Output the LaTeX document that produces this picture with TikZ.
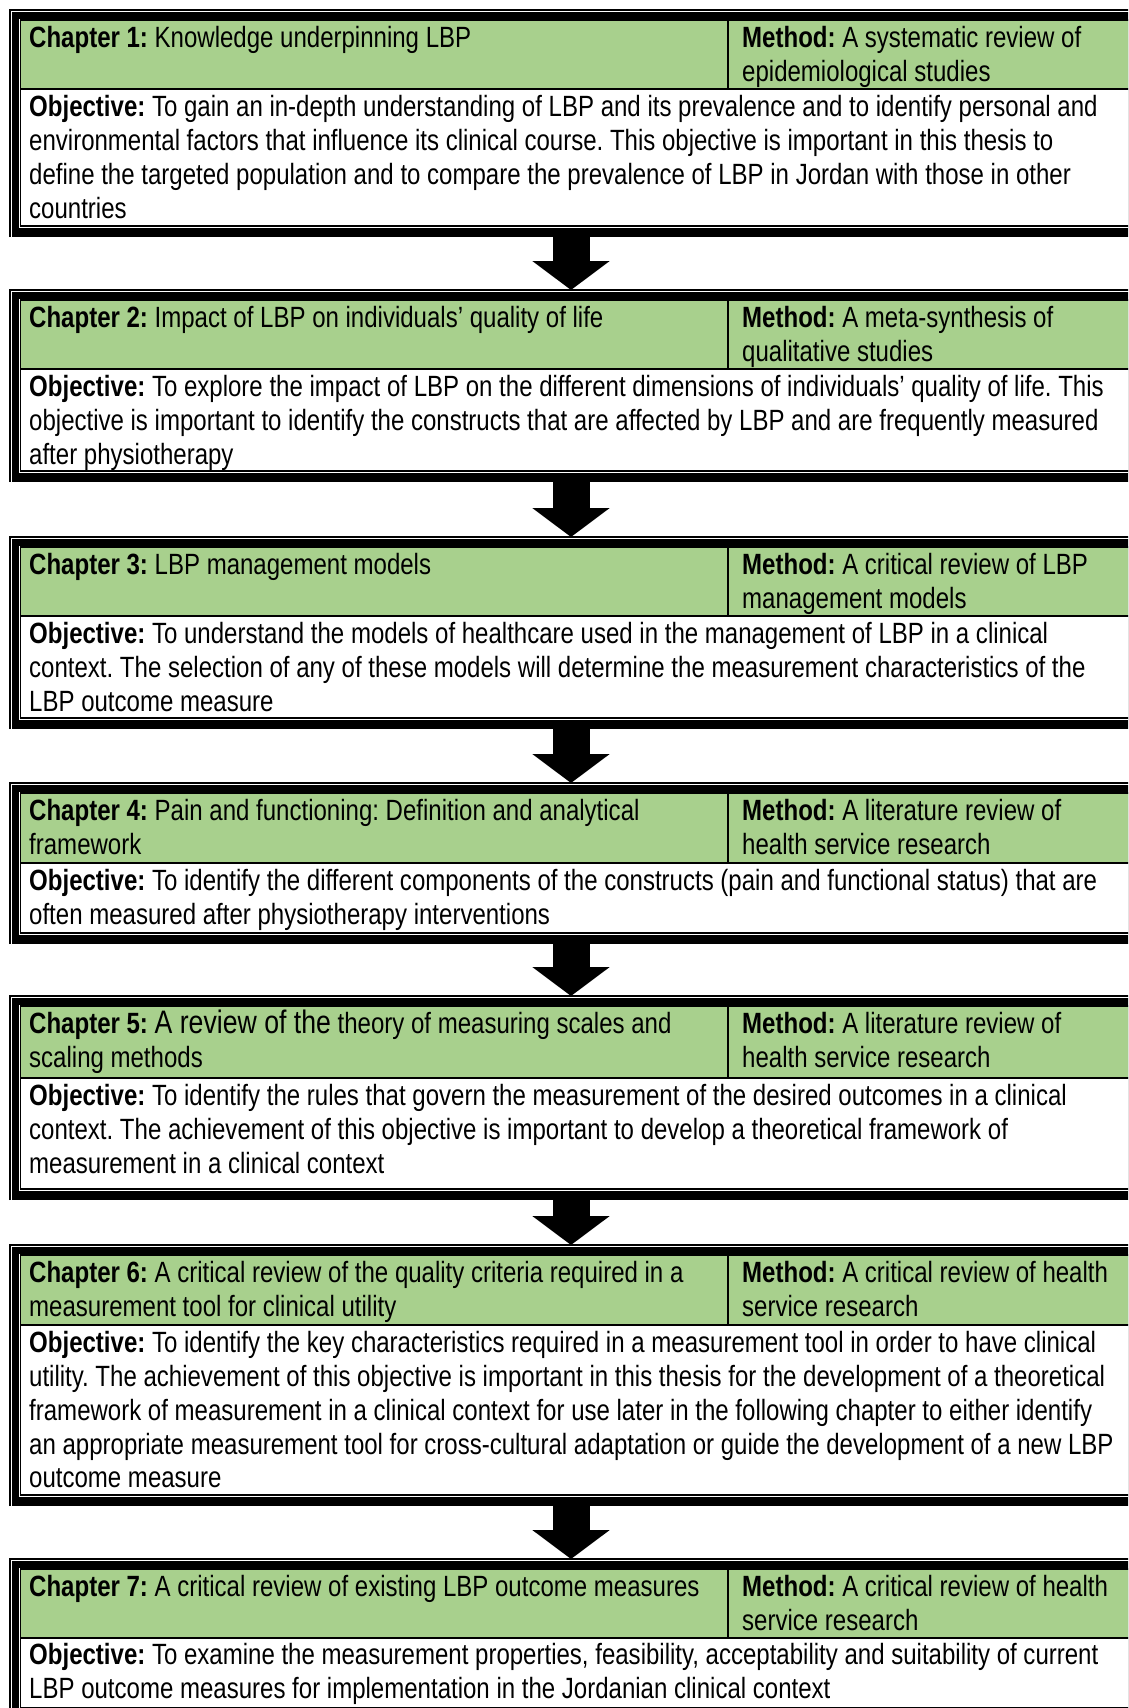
\documentclass[tikz,border=0pt]{standalone}
\usepackage{fontspec}
\setmainfont[FakeStretch=0.82]{Liberation Sans}
\usetikzlibrary{arrows.meta}
\definecolor{hdrgreen}{RGB}{168,208,141}
\newcommand{\blockfont}{\fontsize{29.3pt}{33.75pt}\selectfont\frenchspacing}
\begin{document}
\begin{tikzpicture}[x=1pt, y=-1pt,
		txt/.style = {anchor=north west, inner sep=0pt, align=left, font=\blockfont},
		bigarrow/.style = {line width=37pt, -{Triangle[width=76pt,length=29pt]}}]
			\useasboundingbox (0,0) rectangle (1128,1708);
			\clip (0,0) rectangle (1128,1708);
			% frames: number / cell top / divider / cell bottom
			\foreach \n/\t/\g/\b in {1/20/89/226, 2/300/369/471, 3/547/616/718, 4/793/863/933,
					5/1006/1078/1189, 6/1255/1325/1495, 7/1569/1638/1707.5} {
				\fill[black] (12,\t-8) rectangle (1140,\b+11);
				\fill[white] (19,\t-1) rectangle (1140,\b+2);
				\fill[hdrgreen] (20,\t) rectangle (1140,\g);
				\draw[line width=1.3pt] (1140,\t) -- (20.5,\t) -- (20.5,\b) -- (1140,\b);
				\draw[line width=1.5pt] (20.5,\g) -- (1140,\g);
				\draw[line width=2.5pt] (728,\t) -- (728,\g);
				\draw[line width=1.2pt] (10,\b+11) -- (10,\t-10) -- (1140,\t-10);
				\coordinate (blk\n-top) at (571,\t-10);
				\coordinate (blk\n-bot) at (571,\b+11);
			}
			\node[txt] (chap1) at (29,24) {\strut\textbf{Chapter 1:} Knowledge underpinning LBP};
			\node[txt] (meth1) at (742,24) {\strut\textbf{Method:} A systematic review of\\epidemiological studies};
			\node[txt] (obj1) at (29,93) {\strut\textbf{Objective:} To gain an in-depth understanding of LBP and its prevalence and to identify personal and\\environmental factors that influence its clinical course. This objective is important in this thesis to\\define the targeted population and to compare the prevalence of LBP in Jordan with those in other\\countries};
			\node[txt] (chap2) at (29,304) {\strut\textbf{Chapter 2:} Impact of LBP on individuals’ quality of life};
			\node[txt] (meth2) at (742,304) {\strut\textbf{Method:} A meta-synthesis of\\qualitative studies};
			\node[txt] (obj2) at (29,373) {\strut\textbf{Objective:} To explore the impact of LBP on the different dimensions of individuals’ quality of life. This\\objective is important to identify the constructs that are affected by LBP and are frequently measured\\after physiotherapy};
			\node[txt] (chap3) at (29,551) {\strut\textbf{Chapter 3:} LBP management models};
			\node[txt] (meth3) at (742,551) {\strut\textbf{Method:} A critical review of LBP\\management models};
			\node[txt] (obj3) at (29,620) {\strut\textbf{Objective:} To understand the models of healthcare used in the management of LBP in a clinical\\context. The selection of any of these models will determine the measurement characteristics of the\\LBP outcome measure};
			\node[txt] (chap4) at (29,797) {\strut\textbf{Chapter 4:} Pain and functioning: Definition and analytical\\framework};
			\node[txt] (meth4) at (742,797) {\strut\textbf{Method:} A literature review of\\health service research};
			\node[txt] (obj4) at (29,867) {\strut\textbf{Objective:} To identify the different components of the constructs (pain and functional status) that are\\often measured after physiotherapy interventions};
			\node[txt] (chap5) at (29,1010) {\strut\textbf{Chapter 5:} {\fontsize{32.5pt}{33.75pt}\selectfont A review of the} theory of measuring scales and\\scaling methods};
			\node[txt] (meth5) at (742,1010) {\strut\textbf{Method:} A literature review of\\health service research};
			\node[txt] (obj5) at (29,1082) {\strut\textbf{Objective:} To identify the rules that govern the measurement of the desired outcomes in a clinical\\context. The achievement of this objective is important to develop a theoretical framework of\\measurement in a clinical context};
			\node[txt] (chap6) at (29,1259) {\strut\textbf{Chapter 6:} A critical review of the quality criteria required in a\\measurement tool for clinical utility};
			\node[txt] (meth6) at (742,1259) {\strut\textbf{Method:} A critical review of health\\service research};
			\node[txt] (obj6) at (29,1329) {\strut\textbf{Objective:} To identify the key characteristics required in a measurement tool in order to have clinical\\utility. The achievement of this objective is important in this thesis for the development of a theoretical\\framework of measurement in a clinical context for use later in the following chapter to either identify\\an appropriate measurement tool for cross-cultural adaptation or guide the development of a new LBP\\outcome measure};
			\node[txt] (chap7) at (29,1573) {\strut\textbf{Chapter 7:} A critical review of existing LBP outcome measures};
			\node[txt] (meth7) at (742,1573) {\strut\textbf{Method:} A critical review of health\\service research};
			\node[txt] (obj7) at (29,1641) {\strut\textbf{Objective:} To examine the measurement properties, feasibility, acceptability and suitability of current\\LBP outcome measures for implementation in the Jordanian clinical context};
			\foreach \a/\b in {1/2, 2/3, 3/4, 4/5, 5/6, 6/7}
				\draw[bigarrow] (blk\a-bot) -- (blk\b-top);
		\end{tikzpicture}
\end{document}
